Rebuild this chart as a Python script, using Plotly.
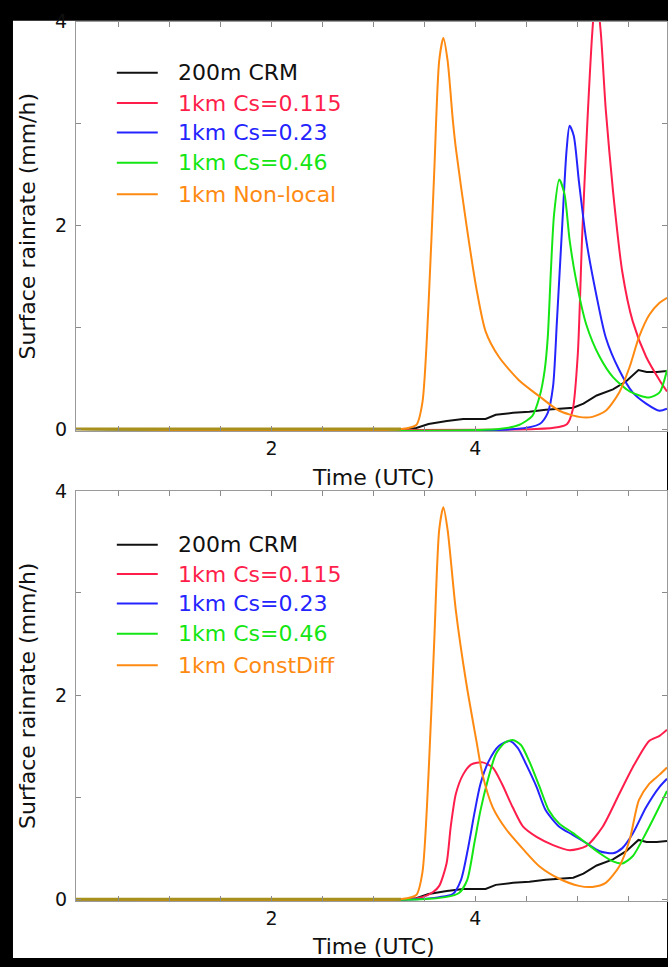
import plotly.graph_objects as go

W, H = 668, 967

# ---------------- data (time in UTC hours, rainrate mm/h) ----------------
crm_t = [0.08, 3.32, 3.42, 3.54, 3.72, 3.88, 3.98, 4.10, 4.20, 4.37, 4.53, 4.69, 4.96, 5.06, 5.19, 5.35, 5.48, 5.60, 5.68, 5.78, 5.88]
crm_y = [0, 0, 0.01, 0.05, 0.08, 0.10, 0.10, 0.10, 0.14, 0.16, 0.17, 0.19, 0.21, 0.25, 0.33, 0.39, 0.47, 0.58, 0.56, 0.56, 0.57]

# top panel
a_red_t = [0.08, 4.59, 4.82, 4.90, 4.955, 5.005, 5.046, 5.097, 5.148, 5.183, 5.229, 5.279, 5.35, 5.442, 5.543, 5.675, 5.807, 5.88]
a_red_y = [0, 0, 0.02, 0.05, 0.19, 0.74, 1.86, 2.98, 3.91, 4.30, 3.91, 3.14, 2.34, 1.54, 1.06, 0.71, 0.48, 0.37]
a_blue_t = [0.08, 4.39, 4.63, 4.71, 4.762, 4.80, 4.853, 4.894, 4.924, 4.965, 5.016, 5.087, 5.188, 5.279, 5.411, 5.543, 5.675, 5.807, 5.88]
a_blue_y = [0, 0, 0.05, 0.16, 0.42, 1.06, 2.02, 2.73, 2.98, 2.88, 2.43, 1.86, 1.31, 0.90, 0.58, 0.36, 0.25, 0.18, 0.20]
a_green_t = [0.08, 4.23, 4.427, 4.559, 4.63, 4.68, 4.71, 4.74, 4.772, 4.823, 4.874, 4.924, 4.985, 5.087, 5.219, 5.35, 5.513, 5.705, 5.807, 5.88]
a_green_y = [0, 0, 0.04, 0.13, 0.32, 0.58, 0.90, 1.54, 2.11, 2.45, 2.31, 1.86, 1.48, 1.03, 0.71, 0.51, 0.37, 0.31, 0.36, 0.58]
a_orange_t = [0.08, 3.27, 3.42, 3.48, 3.54, 3.595, 3.645, 3.686, 3.727, 3.778, 3.808, 3.91, 4.01, 4.10, 4.23, 4.427, 4.63, 4.823, 5.016, 5.148, 5.279, 5.411, 5.513, 5.604, 5.705, 5.807, 5.88]
a_orange_y = [0, 0, 0.04, 0.26, 1.22, 2.50, 3.62, 3.84, 3.62, 3.04, 2.76, 2.02, 1.38, 0.96, 0.71, 0.48, 0.32, 0.18, 0.12, 0.12, 0.18, 0.36, 0.61, 0.90, 1.12, 1.24, 1.29]

# bottom panel
b_red_t = [0.08, 3.32, 3.48, 3.585, 3.645, 3.717, 3.758, 3.808, 3.879, 3.96, 4.07, 4.17, 4.26, 4.366, 4.468, 4.60, 4.762, 4.924, 5.087, 5.249, 5.411, 5.543, 5.705, 5.807, 5.88]
b_red_y = [0, 0, 0.02, 0.07, 0.13, 0.35, 0.71, 1.03, 1.22, 1.32, 1.34, 1.29, 1.13, 0.90, 0.71, 0.61, 0.53, 0.48, 0.52, 0.71, 1.03, 1.29, 1.55, 1.60, 1.66]
b_blue_t = [0.08, 3.42, 3.645, 3.778, 3.859, 3.93, 3.99, 4.05, 4.13, 4.23, 4.336, 4.417, 4.498, 4.60, 4.69, 4.823, 4.955, 5.087, 5.219, 5.35, 5.442, 5.543, 5.675, 5.807, 5.88]
b_blue_y = [0, 0, 0.02, 0.05, 0.19, 0.51, 0.84, 1.13, 1.35, 1.50, 1.55, 1.48, 1.32, 1.10, 0.87, 0.71, 0.63, 0.55, 0.47, 0.45, 0.50, 0.64, 0.90, 1.10, 1.18]
b_green_t = [0.08, 3.47, 3.707, 3.839, 3.92, 3.99, 4.05, 4.12, 4.20, 4.285, 4.366, 4.447, 4.529, 4.63, 4.72, 4.823, 4.955, 5.087, 5.219, 5.35, 5.442, 5.543, 5.675, 5.807, 5.88]
b_green_y = [0, 0, 0.02, 0.06, 0.19, 0.55, 0.87, 1.16, 1.42, 1.53, 1.56, 1.51, 1.35, 1.10, 0.87, 0.74, 0.65, 0.55, 0.45, 0.37, 0.35, 0.42, 0.65, 0.91, 1.06]
b_orange_t = [0.08, 3.27, 3.42, 3.48, 3.54, 3.595, 3.645, 3.686, 3.727, 3.808, 3.91, 4.01, 4.07, 4.17, 4.305, 4.468, 4.63, 4.823, 5.016, 5.148, 5.279, 5.411, 5.513, 5.604, 5.705, 5.807, 5.88]
b_orange_y = [0, 0, 0.04, 0.26, 1.22, 2.50, 3.62, 3.84, 3.62, 2.83, 2.12, 1.55, 1.22, 0.90, 0.68, 0.49, 0.32, 0.20, 0.13, 0.12, 0.16, 0.32, 0.58, 0.97, 1.13, 1.22, 1.29]

top_names = ["200m CRM", "1km Cs=0.115", "1km Cs=0.23", "1km Cs=0.46", "1km Non-local"]
bot_names = ["200m CRM", "1km Cs=0.115", "1km Cs=0.23", "1km Cs=0.46", "1km ConstDiff"]
colors = ["#111111", "#ff1e4b", "#2424ff", "#14e614", "#ff8a12"]
x_ticks = [2, 4]
y_ticks = [0, 2, 4]
x_range = [0.08, 5.88]
y_range = [-0.02, 4]
x_title = "Time (UTC)"
y_title = "Surface rainrate (mm/h)"

FONT = "DejaVu Sans"
FS = 22
TFS = 19

# ---------------- layout helpers (pixel -> paper) ----------------
def px(x):
    return x / W

def py(y):
    return 1 - y / H

X_L, X_R = 76, 668
PXU = (X_R - X_L) / (x_range[1] - x_range[0])  # pixels per hour
panels = [
    dict(top=11, bottom=429, series=[(crm_t, crm_y), (a_red_t, a_red_y), (a_blue_t, a_blue_y), (a_green_t, a_green_y), (a_orange_t, a_orange_y)],
         names=top_names, legend_rows=[63, 94, 124, 155, 187], xtitle_y=476),
    dict(top=490, bottom=909, series=[(crm_t, crm_y), (b_red_t, b_red_y), (b_blue_t, b_blue_y), (b_green_t, b_green_y), (b_orange_t, b_orange_y)],
         names=bot_names, legend_rows=[545, 575, 605, 636, 668], xtitle_y=955),
]

fig = go.Figure()
shapes = []
annotations = []

shapes.append(dict(type="rect", xref="paper", yref="paper", x0=px(13), x1=1.0, y0=0, y1=py(10),
                   fillcolor="white", line=dict(width=0), layer="below"))

for k, p in enumerate(panels):
    xa = "x" if k == 0 else "x2"
    ya = "y" if k == 0 else "y2"
    for i, (t, y) in enumerate(p["series"]):
        fig.add_trace(go.Scatter(x=t, y=y, mode="lines", xaxis=xa, yaxis=ya, showlegend=False,
                                 line=dict(color=colors[i], width=2,
                                           shape="linear" if i == 0 else "spline",
                                           smoothing=0.7),
                                 hoverinfo="skip"))
    # common zero baseline (where every series is still zero)
    t_end = min(t[max(j for j, v in enumerate(y) if all(vv == 0 for vv in y[:j + 1]))]
                for t, y in p["series"])
    fig.add_trace(go.Scatter(x=[x_range[0], t_end], y=[0, 0], mode="lines", xaxis=xa, yaxis=ya,
                             showlegend=False, line=dict(color="#a8901c", width=3), hoverinfo="skip"))

    dom_y = [py(p["bottom"]), py(p["top"])]
    axis_common = dict(showline=True, linecolor="#9a9a9a", linewidth=1, mirror="allticks",
                       ticks="inside", ticklen=5, tickcolor="#8a8a8a", tickwidth=1,
                       showgrid=False, zeroline=False, fixedrange=True,
                       tickfont=dict(family=FONT, size=TFS, color="#111111"))
    xname = "xaxis" if k == 0 else "xaxis2"
    yname = "yaxis" if k == 0 else "yaxis2"
    fig.update_layout({
        xname: dict(axis_common, domain=[px(X_L), 1.0], range=x_range, anchor=ya,
                    tickmode="array", tickvals=x_ticks, ticktext=[str(v) for v in x_ticks],
                    minor=dict(dtick=0.5, tick0=0, ticks="inside", ticklen=5, tickcolor="#8a8a8a"),
                    ticklabelstandoff=0),
        yname: dict(axis_common, domain=dom_y, range=y_range, anchor=xa,
                    tickmode="array", tickvals=y_ticks, ticktext=[str(v) for v in y_ticks],
                    minor=dict(tickvals=[1, 3], ticks="inside", ticklen=5, tickcolor="#8a8a8a"),
                    ticklabelstandoff=4),
    })

    # axis titles
    annotations.append(dict(text=x_title, xref="paper", yref="paper",
                            x=px(X_L + (3 - x_range[0]) * PXU), y=py(p["xtitle_y"]), showarrow=False,
                            font=dict(family=FONT, size=FS, color="#111111"),
                            xanchor="center", yanchor="middle"))
    annotations.append(dict(text=y_title, xref="paper", yref="paper",
                            x=px(27), y=py((p["top"] + p["bottom"]) / 2), showarrow=False, textangle=-90,
                            font=dict(family=FONT, size=FS, color="#111111"),
                            xanchor="center", yanchor="middle"))
    # legend
    for i, name in enumerate(p["names"]):
        r = p["legend_rows"][i]
        shapes.append(dict(type="line", xref="paper", yref="paper", x0=px(117), x1=px(158),
                           y0=py(r), y1=py(r), line=dict(color=colors[i], width=2)))
        annotations.append(dict(text=name, xref="paper", yref="paper", x=px(176), y=py(r),
                                showarrow=False, xanchor="left", yanchor="middle",
                                font=dict(family=FONT, size=FS, color=colors[i] if i else "#111111")))

fig.update_layout(width=W, height=H, margin=dict(l=0, r=0, t=0, b=0),
                  paper_bgcolor="black", plot_bgcolor="white", hovermode=False,
                  shapes=shapes, annotations=annotations, showlegend=False)

fig.write_html("out.html", config={"displayModeBar": False, "staticPlot": True},
               post_script="document.body.style.margin='0';document.body.style.background='black';"
                           "document.documentElement.style.overflow='hidden';")
